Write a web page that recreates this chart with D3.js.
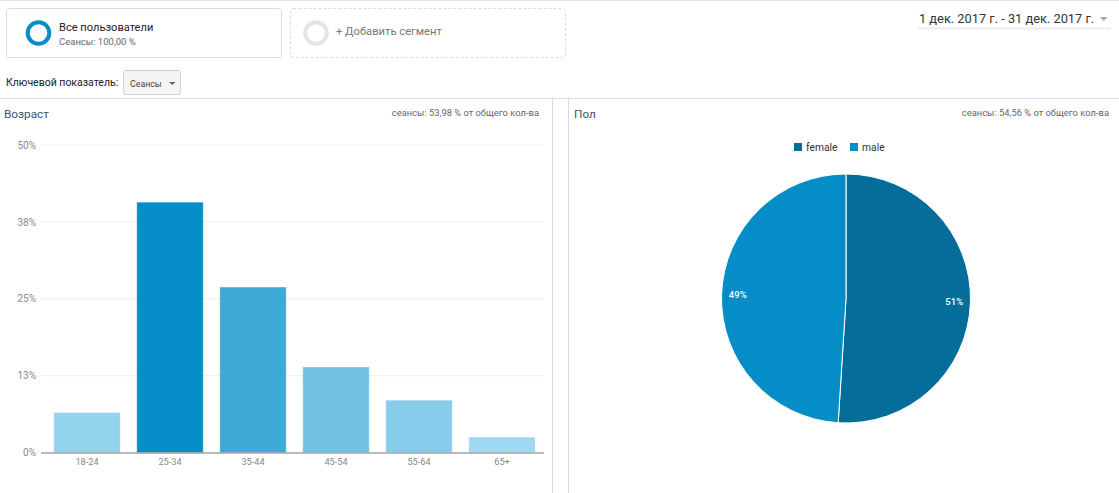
<!DOCTYPE html>
<html>
<head>
<meta charset="utf-8">
<script src="https://cdn.jsdelivr.net/npm/d3@7"></script>
<style>
    html, body { margin: 0; padding: 0; background: #fff; overflow: hidden; }
    text { font-family: Roboto, "Open Sans", sans-serif; }
</style>
</head>
<body>
<div id="chart"></div>
<script>
// Age chart data
const ageGroups = ["18-24", "25-34", "35-44", "45-54", "55-64", "65+"];
const ageValues = [6.5, 40.7, 26.9, 13.9, 8.5, 2.5];
const ageColors = ["#93d3ec", "#058dc7", "#3fa9d8", "#71c1e4", "#88cceb", "#a0d8f1"];
const ageTicks = [0, 12.5, 25, 37.5, 50];
const ageTickLabels = ["0%", "13%", "25%", "38%", "50%"];

// Gender chart data
const genders = ["female", "male"];
const genderValues = [51, 49];
const genderColors = ["#046d9a", "#058dc7"];

const width = 1119;
const height = 493;

const svg = d3.select("#chart")
    .append("svg")
    .attr("width", width)
    .attr("height", height)
    .style("display", "block");

function label(x, y, str, size, color, anchor) {
    return svg.append("text")
        .attr("x", x)
        .attr("y", y)
        .attr("font-size", size)
        .attr("fill", color)
        .attr("text-anchor", anchor || "start")
        .text(str);
}

function hline(x1, x2, y, color, w) {
    svg.append("line")
        .attr("x1", x1).attr("x2", x2)
        .attr("y1", y).attr("y2", y)
        .attr("stroke", color)
        .attr("stroke-width", w || 1);
}

function vline(x, y1, y2, color) {
    svg.append("line")
        .attr("x1", x).attr("x2", x)
        .attr("y1", y1).attr("y2", y2)
        .attr("stroke", color);
}

// Page header
hline(0, width, 0.5, "#e4e4e4");

svg.append("rect")
    .attr("x", 6.5).attr("y", 8.5)
    .attr("width", 275).attr("height", 49)
    .attr("rx", 3)
    .attr("fill", "#fff")
    .attr("stroke", "#dcdcdc");

svg.append("circle")
    .attr("cx", 38.5).attr("cy", 33)
    .attr("r", 10.8)
    .attr("fill", "none")
    .attr("stroke", "#058dc7")
    .attr("stroke-width", 4);

label(59, 31, "Все пользователи", 11.1, "#222");
label(59, 44.5, "Сеансы: 100,00 %", 9.5, "#666");

svg.append("rect")
    .attr("x", 290.5).attr("y", 8.5)
    .attr("width", 275).attr("height", 49)
    .attr("rx", 3)
    .attr("fill", "#fff")
    .attr("stroke", "#dcdcdc")
    .attr("stroke-dasharray", "3,2");

svg.append("circle")
    .attr("cx", 316).attr("cy", 33)
    .attr("r", 10.8)
    .attr("fill", "none")
    .attr("stroke", "#e4e4e4")
    .attr("stroke-width", 4);

label(336, 35, "+ Добавить сегмент", 11.2, "#777");

label(919, 23, "1 дек. 2017 г. - 31 дек. 2017 г.", 12.8, "#333");
svg.append("path")
    .attr("d", "M1100,17h7.5l-3.75,4z")
    .attr("fill", "#aaa");
hline(917, 1111, 28.5, "#ececec", 2);

label(6, 86, "Ключевой показатель:", 10.5, "#222");
svg.append("rect")
    .attr("x", 123.5).attr("y", 70.5)
    .attr("width", 57).attr("height", 24)
    .attr("rx", 2)
    .attr("fill", "#f5f5f5")
    .attr("stroke", "#cfcfcf");
label(130, 87, "Сеансы", 8.8, "#444");
svg.append("path")
    .attr("d", "M169,82h6.5l-3.25,3z")
    .attr("fill", "#666");

// Panel separators
hline(0, width, 98.5, "#d9d9d9");
vline(552.5, 98, height, "#d9d9d9");
vline(568.5, 98, height, "#d9d9d9");

// Age panel
label(4, 118, "Возраст", 11.8, "#3b5370");
label(539, 116, "сеансы: 53,98 % от общего кол-ва", 9.4, "#666", "end");

const xScale = d3.scaleBand()
    .domain(ageGroups)
    .range([45.5, 543.5])
    .paddingInner(0.2)
    .paddingOuter(0.1);

const yScale = d3.scaleLinear()
    .domain([0, 50])
    .range([452.5, 145]);

const yAxis = d3.axisLeft(yScale)
    .tickValues(ageTicks)
    .tickFormat((d, i) => ageTickLabels[i])
    .tickSize(0)
    .tickPadding(5);

const yAxisGroup = svg.append("g")
    .attr("transform", "translate(41, 0)")
    .call(yAxis);
yAxisGroup.select(".domain").remove();
yAxisGroup.selectAll("text")
    .attr("font-size", 10)
    .attr("font-family", null)
    .attr("fill", "#888");

svg.append("g")
    .selectAll("line")
    .data(ageTicks.filter(d => d > 0))
    .enter()
    .append("line")
    .attr("x1", 41)
    .attr("x2", 544)
    .attr("y1", d => yScale(d))
    .attr("y2", d => yScale(d))
    .attr("stroke", "#eeeeee");

svg.append("g")
    .selectAll("rect")
    .data(ageValues)
    .enter()
    .append("rect")
    .attr("x", (d, i) => xScale(ageGroups[i]))
    .attr("y", d => yScale(d))
    .attr("width", xScale.bandwidth())
    .attr("height", d => yScale(0) - yScale(d))
    .attr("fill", (d, i) => ageColors[i])
    .attr("stroke", "#fff")
    .attr("stroke-opacity", 0.3);

const xAxis = d3.axisBottom(xScale)
    .tickSize(0)
    .tickPadding(6);

const xAxisGroup = svg.append("g")
    .attr("transform", `translate(0, ${yScale(0)})`)
    .call(xAxis);
xAxisGroup.select(".domain")
    .attr("d", "M41,0.5H544")
    .attr("stroke", "#777");
xAxisGroup.selectAll("text")
    .attr("font-size", 9.2)
    .attr("font-family", null)
    .attr("fill", "#888");

// Gender panel
label(574, 118, "Пол", 11.8, "#3b5370");
label(1109, 116, "сеансы: 54,56 % от общего кол-ва", 9.4, "#666", "end");

const colorScale = d3.scaleOrdinal().domain(genders).range(genderColors);

const legendX = [794, 850];
genders.forEach((g, i) => {
    svg.append("rect")
        .attr("x", legendX[i]).attr("y", 143)
        .attr("width", 8).attr("height", 8)
        .attr("fill", colorScale(g));
    label(legendX[i] + 12, 151, g, 10.3, "#333");
});

const pieRadius = 124.5;
const pie = d3.pie().sort(null);
const arc = d3.arc().innerRadius(0).outerRadius(pieRadius);
const arcLabel = d3.arc().innerRadius(pieRadius * 0.87).outerRadius(pieRadius * 0.87);

const pieGroup = svg.append("g")
    .attr("transform", "translate(846, 298.5)");

const slices = pieGroup.selectAll("g")
    .data(pie(genderValues))
    .enter()
    .append("g");

slices.append("path")
    .attr("d", arc)
    .attr("fill", (d, i) => colorScale(genders[i]))
    .attr("stroke", "#fff")
    .attr("stroke-width", 1);

slices.append("text")
    .attr("transform", d => `translate(${arcLabel.centroid(d)})`)
    .attr("text-anchor", "middle")
    .attr("dy", "0.35em")
    .attr("font-size", 9.5)
    .attr("font-weight", 500)
    .attr("fill", "#fff")
    .text(d => `${d.data}%`);
</script>
</body>
</html>
